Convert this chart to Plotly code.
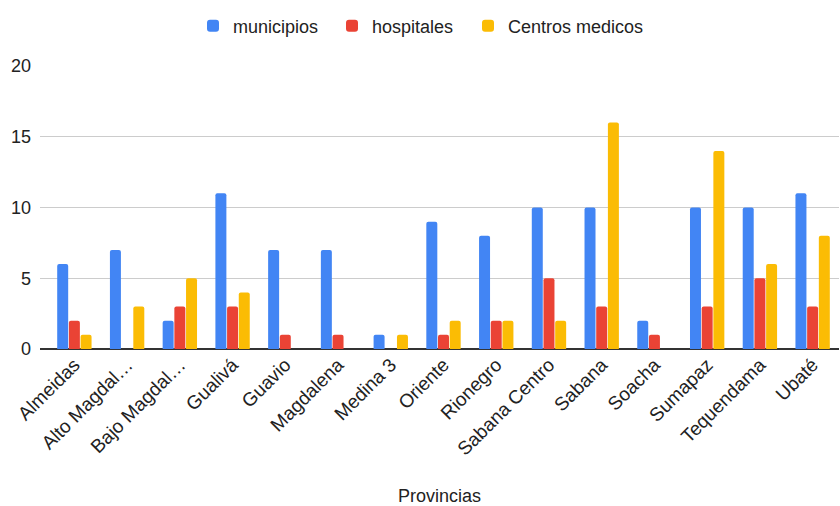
import plotly.graph_objects as go

provincias = ["Almeidas", "Alto Magdal…", "Bajo Magdal…", "Gualivá", "Guavio", "Magdalena",
              "Medina 3", "Oriente", "Rionegro", "Sabana Centro", "Sabana", "Soacha",
              "Sumapaz", "Tequendama", "Ubaté"]
municipios = [6, 7, 2, 11, 7, 7, 1, 9, 8, 10, 10, 2, 10, 10, 11]
hospitales = [2, 0, 3, 3, 1, 1, 0, 1, 2, 5, 3, 1, 3, 5, 3]
centros_medicos = [1, 3, 5, 4, 0, 0, 1, 2, 2, 2, 16, 0, 14, 6, 8]

W, H = 840, 506
series = [("municipios", municipios, "#4285F4", "legend", 193),
          ("hospitales", hospitales, "#EA4335", "legend2", 332),
          ("Centros medicos", centros_medicos, "#FBBC04", "legend3", 468)]

fig = go.Figure()
for name, vals, col, lg, _ in series:
    fig.add_trace(go.Bar(x=list(range(len(provincias))), y=vals, name=name, legend=lg,
                         marker=dict(color=col, line=dict(width=0))))

legend_common = dict(orientation="h", xanchor="left", yanchor="top", xref="container",
                     yref="container", y=0.985, font=dict(size=18, color="#222222"),
                     itemwidth=30, bgcolor="rgba(0,0,0,0)")
legends = {}
for name, vals, col, lg, px in series:
    legends[lg] = dict(legend_common, x=px / W)

fig.update_layout(
    width=W, height=H,
    margin=dict(l=40, r=1, t=66, b=157),
    paper_bgcolor="white", plot_bgcolor="white",
    font=dict(family="Liberation Sans, Arial, sans-serif", size=18, color="#222222"),
    barmode="group", bargap=0.335, bargroupgap=0.06, barcornerradius=2,
    showlegend=True,
    xaxis=dict(tickmode="array", tickvals=list(range(len(provincias))), ticktext=provincias,
               tickangle=-45, range=[-0.652, 14.5], showgrid=False, zeroline=False,
               showline=False, ticks="", tickfont=dict(size=19, color="#222222"),
               title=dict(text="Provincias", font=dict(size=18, color="#222222"), standoff=30)),
    yaxis=dict(range=[0, 20], tickvals=[0, 5, 10, 15, 20], showgrid=True,
               gridcolor="#CCCCCC", gridwidth=1, zeroline=True, zerolinecolor="#333333",
               zerolinewidth=1.5, showline=False, ticks="",
               tickfont=dict(size=18, color="#222222"), ticklabelstandoff=8),
    **legends,
)
fig.write_html("out.html")
